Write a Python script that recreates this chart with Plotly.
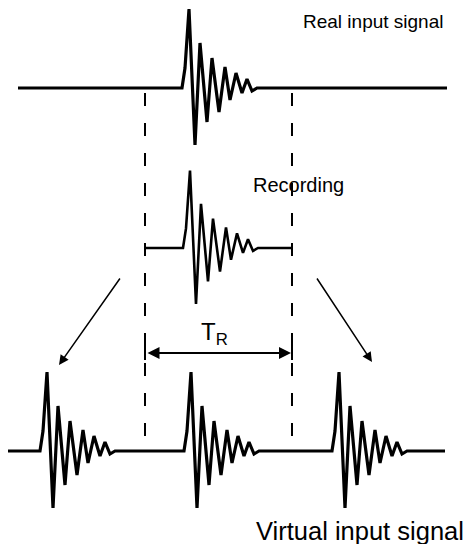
import plotly.graph_objects as go

# Waveform shape (relative time offsets and amplitudes)
wave_t = [0, 3, 7, 13, 18, 25, 30, 37, 43, 48, 54, 60, 65, 70, 75]
wave_a = [0, 20, 79, -57, 45, -34, 30, -24, 21, -12, 15, -5, 9, -3, 0]

labels = ["Real input signal", "Recording", "Virtual input signal"]
period_label = "T<sub>R</sub>"

# layout constants (pixel space of the page; the page body has an 8px margin)
W, H = 471, 544
OFF = 8
top_y, rec_y, bot_y = 88, 248, 451
win_left, win_right = 145, 292
top_start = 182
rec_start = 183
virt_starts = [40, 184, 332]


def row(x_from, starts, x_to, base, scale=1.0):
    xs, ys = [x_from], [base]
    for s in starts:
        for t, a in zip(wave_t, wave_a):
            xs.append(s + t)
            ys.append(base - a * scale)
    xs.append(x_to)
    ys.append(base)
    return xs, ys


fig = go.Figure()
line_style = dict(color="black", width=3.2)

x, y = row(18, [top_start], 447, top_y)
fig.add_trace(go.Scatter(x=x, y=y, mode="lines", line=line_style, hoverinfo="skip"))
x, y = row(win_left, [rec_start], win_right, rec_y, 0.98)
fig.add_trace(go.Scatter(x=x, y=y, mode="lines", line=dict(color="black", width=2.6), hoverinfo="skip"))
x, y = row(7, virt_starts, 445, bot_y)
fig.add_trace(go.Scatter(x=x, y=y, mode="lines", line=line_style, hoverinfo="skip"))

shapes = []
for xv in (win_left, win_right):
    shapes.append(dict(type="line", x0=xv, x1=xv, y0=93, y1=bot_y, xref="x", yref="y",
                       line=dict(color="black", width=2, dash="13px,17px")))
    shapes.append(dict(type="line", x0=xv, x1=xv, y0=rec_y - 4, y1=rec_y + 4, xref="x", yref="y",
                       line=dict(color="black", width=2)))
    shapes.append(dict(type="line", x0=xv, x1=xv, y0=346, y1=360, xref="x", yref="y",
                       line=dict(color="black", width=2)))

annotations = []
# diagonal arrows
annotations.append(dict(x=59, y=365, ax=121, ay=277, xref="x", yref="y", axref="x", ayref="y",
                        showarrow=True, arrowhead=2, arrowsize=1.3, arrowwidth=1.5, arrowcolor="black",
                        text="", standoff=0))
annotations.append(dict(x=372, y=362, ax=316, ay=277, xref="x", yref="y", axref="x", ayref="y",
                        showarrow=True, arrowhead=2, arrowsize=1.3, arrowwidth=1.5, arrowcolor="black",
                        text="", standoff=0))
# T_R double arrow
annotations.append(dict(x=win_right - 1, y=353, ax=win_left + 1, ay=353, xref="x", yref="y",
                        axref="x", ayref="y", showarrow=True, arrowhead=2, startarrowhead=2,
                        arrowside="end+start", arrowsize=1.2, startarrowsize=1.2, arrowwidth=2,
                        arrowcolor="black", text="", standoff=0, startstandoff=0))

font = "Liberation Sans, Arial, Helvetica, sans-serif"
annotations.append(dict(x=301, y=21, xref="x", yref="y", text=labels[0], showarrow=False,
                        xanchor="left", yanchor="middle", font=dict(family=font, size=19, color="black")))
annotations.append(dict(x=251, y=185, xref="x", yref="y", text=labels[1], showarrow=False,
                        xanchor="left", yanchor="middle", font=dict(family=font, size=20, color="black")))
annotations.append(dict(x=254, y=531, xref="x", yref="y", text=labels[2], showarrow=False,
                        xanchor="left", yanchor="middle", font=dict(family=font, size=25.5, color="black")))
annotations.append(dict(x=199, y=333, xref="x", yref="y", text=period_label, showarrow=False,
                        xanchor="left", yanchor="middle", font=dict(family=font, size=24, color="black")))

fig.update_layout(
    width=W - OFF, height=H - OFF, margin=dict(l=0, r=0, t=0, b=0),
    paper_bgcolor="white", plot_bgcolor="white", showlegend=False,
    xaxis=dict(range=[OFF, W], visible=False, fixedrange=True),
    yaxis=dict(range=[H, OFF], visible=False, fixedrange=True),
    shapes=shapes, annotations=annotations,
)
fig.write_html("out.html")
